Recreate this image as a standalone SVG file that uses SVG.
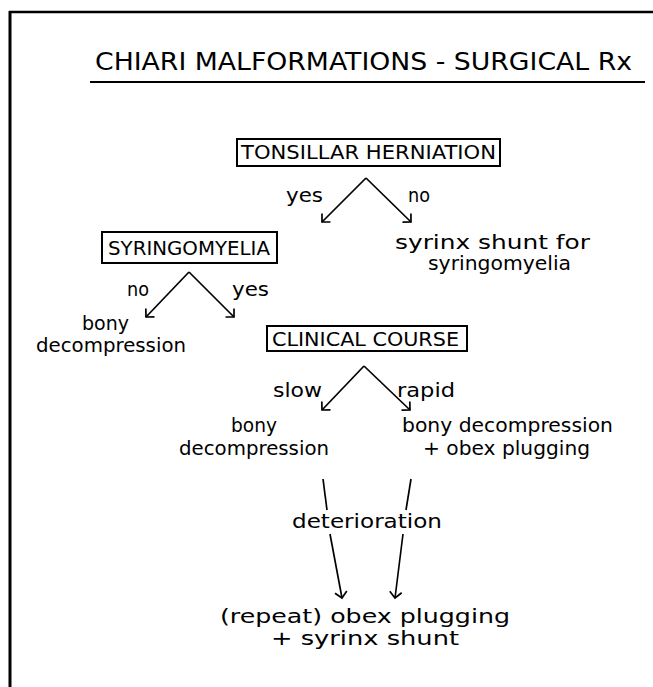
<svg xmlns="http://www.w3.org/2000/svg" width="653" height="687" viewBox="0 0 653 687">
<style>
text{font-family:"DejaVu Sans","Liberation Sans",sans-serif;fill:#000}
.t{font-size:24px}
.u{font-size:19px}
.l{font-size:19px}
.box{fill:none;stroke:#000;stroke-width:2}
.c{fill:none;stroke:#000;stroke-width:1.7}
.a{marker-end:url(#ah)}
</style>
<defs>
<marker id="ah" markerUnits="userSpaceOnUse" viewBox="-10 -10 20 20" refX="0" refY="0" markerWidth="20" markerHeight="20" orient="auto" overflow="visible">
<path d="M-6,-6 L0,0 L-6,6" fill="none" stroke="#000" stroke-width="1.7"/>
</marker>
</defs>
<rect width="653" height="687" fill="#fff"/>
<g id="frame">
<line x1="10" y1="11" x2="10" y2="687" stroke="#000" stroke-width="3"/>
<line x1="9" y1="12" x2="653" y2="12" stroke="#000" stroke-width="2.5"/>
</g>
<g id="title">
<text class="t" x="95" y="70" textLength="537" lengthAdjust="spacingAndGlyphs">CHIARI MALFORMATIONS - SURGICAL Rx</text>
<line x1="90" y1="82" x2="645" y2="82" stroke="#000" stroke-width="2"/>
</g>
<g id="n-tonsillar">
<rect class="box" x="237" y="139" width="263" height="27"/>
<text class="u" x="241" y="159" textLength="255" lengthAdjust="spacingAndGlyphs">TONSILLAR HERNIATION</text>
</g>
<g id="n-shunt">
<text class="l" x="395" y="249" textLength="195" lengthAdjust="spacingAndGlyphs">syrinx shunt for</text>
<text class="l" x="428" y="270" textLength="143" lengthAdjust="spacingAndGlyphs">syringomyelia</text>
</g>
<g id="n-syringo">
<rect class="box" x="102" y="232" width="175" height="31"/>
<text class="u" x="108" y="255" textLength="162" lengthAdjust="spacingAndGlyphs">SYRINGOMYELIA</text>
</g>
<g id="n-bony1">
<text class="l" x="82" y="330" textLength="47" lengthAdjust="spacingAndGlyphs">bony</text>
<text class="l" x="36" y="352" textLength="150" lengthAdjust="spacingAndGlyphs">decompression</text>
</g>
<g id="n-clinical">
<rect class="box" x="267" y="326" width="200" height="25"/>
<text class="u" x="272" y="346" textLength="187" lengthAdjust="spacingAndGlyphs">CLINICAL COURSE</text>
</g>
<g id="n-bony2">
<text class="l" x="231" y="432" textLength="46" lengthAdjust="spacingAndGlyphs">bony</text>
<text class="l" x="179" y="455" textLength="150" lengthAdjust="spacingAndGlyphs">decompression</text>
</g>
<g id="n-bonyobex">
<text class="l" x="402" y="432" textLength="211" lengthAdjust="spacingAndGlyphs">bony decompression</text>
<text class="l" x="423" y="455" textLength="167" lengthAdjust="spacingAndGlyphs">+ obex plugging</text>
</g>
<g id="n-final">
<text class="l" x="220" y="623" textLength="290" lengthAdjust="spacingAndGlyphs">(repeat) obex plugging</text>
<text class="l" x="271" y="645" textLength="188" lengthAdjust="spacingAndGlyphs">+ syrinx shunt</text>
</g>
<g id="connectors">
<line class="c a" x1="366" y1="178" x2="322" y2="222"/>
<line class="c a" x1="366" y1="178" x2="411" y2="222"/>
<line class="c a" x1="189" y1="272" x2="146" y2="317"/>
<line class="c a" x1="189" y1="272" x2="234" y2="317"/>
<line class="c a" x1="364" y1="366" x2="322" y2="410"/>
<line class="c a" x1="364" y1="366" x2="410" y2="410"/>
<line class="c" x1="323" y1="479" x2="327" y2="510"/>
<line class="c a" x1="330" y1="534" x2="342" y2="598"/>
<line class="c" x1="411" y1="479" x2="406" y2="510"/>
<line class="c a" x1="403" y1="534" x2="395" y2="598"/>
<text class="l" x="286" y="202" textLength="37" lengthAdjust="spacingAndGlyphs">yes</text>
<text class="l" x="408" y="202" textLength="22" lengthAdjust="spacingAndGlyphs">no</text>
<text class="l" x="127" y="296" textLength="22" lengthAdjust="spacingAndGlyphs">no</text>
<text class="l" x="232" y="296" textLength="37" lengthAdjust="spacingAndGlyphs">yes</text>
<text class="l" x="273" y="397" textLength="49" lengthAdjust="spacingAndGlyphs">slow</text>
<text class="l" x="397" y="397" textLength="58" lengthAdjust="spacingAndGlyphs">rapid</text>
<text class="l" x="292" y="528" textLength="150" lengthAdjust="spacingAndGlyphs">deterioration</text>
</g>
</svg>
